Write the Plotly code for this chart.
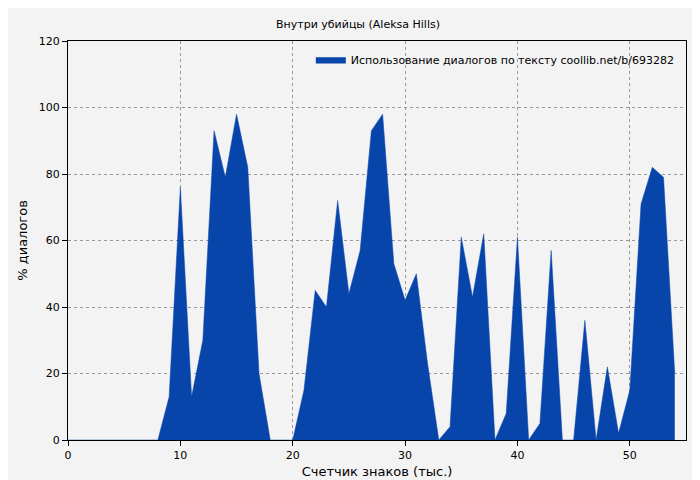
import plotly.graph_objects as go

x = list(range(0, 55))
y = [0,0,0,0,0,0,0,0,0,13,76,13,30,93,79,98,82,20,0,0,
     0,15,45,40,72,44,57,93,98,53,42,50,23,0,4,61,43,62,0,8,
     61,0,5,57,0,0,36,0,22,2,15,71,82,79,20]
xticks = [0,10,20,30,40,50]
yticks = [0,20,40,60,80,100,120]

fig = go.Figure(go.Scatter(x=x, y=y, fill='tozeroy', mode='lines',
    line=dict(color='#0845ab', width=0.5), fillcolor='#0845ab',
    name='Использование диалогов по тексту coollib.net/b/693282'))
ax = dict(showgrid=True, gridcolor='#999', griddash='dot', gridwidth=1,
          showline=True, linecolor='black', mirror=True, ticks='outside',
          ticklen=5, tickcolor='black', zeroline=False)
fig.update_layout(
    width=700, height=480, paper_bgcolor='#f3f3f3', plot_bgcolor='#f3f3f3',
    font=dict(family='DejaVu Sans', size=11, color='black'),
    title=dict(text='Внутри убийцы (Aleksa Hills)', x=0.5, y=0.975, font=dict(size=11)),
    margin=dict(l=60, r=22, t=33, b=40),
    xaxis=dict(range=[0,55], tickvals=xticks, title=dict(text='Счетчик знаков (тыс.)', standoff=5), **ax),
    yaxis=dict(range=[0,120], tickvals=yticks, title=dict(text='% диалогов', standoff=8), **ax),
    legend=dict(x=0.99, y=0.99, xanchor='right', yanchor='top', bgcolor='rgba(0,0,0,0)'),
    showlegend=True,
)
fig.write_html("out.html")
